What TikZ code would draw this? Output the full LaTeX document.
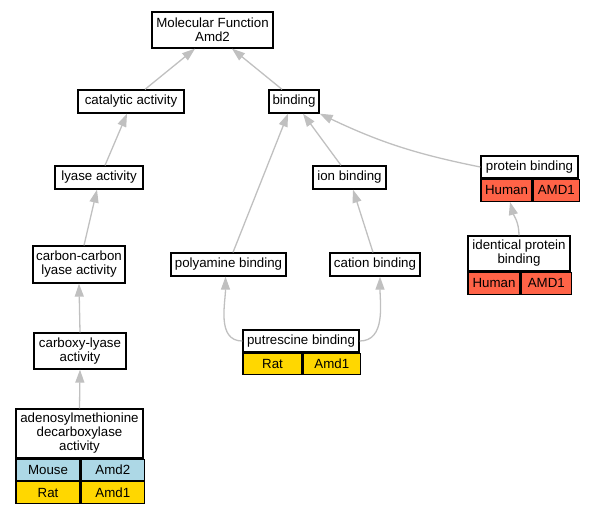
\documentclass[tikz,border=0pt]{standalone}
\usepackage{fontspec}
\setmainfont{Liberation Sans}
\usetikzlibrary{arrows.meta}
\definecolor{edgegray}{RGB}{192,192,192}
\definecolor{humanred}{RGB}{255,99,71}
\definecolor{ratgold}{RGB}{255,215,0}
\definecolor{mouseblue}{RGB}{173,216,230}

\begin{document}
\begin{tikzpicture}[x=1pt, y=-1pt, >={Triangle[length=13pt, width=9pt]}]

        % Styles
        \tikzset{
            term/.style={draw, line width=1.3pt, fill=white, align=center, inner sep=0pt, font=\fontsize{13.3}{14}\selectfont},
            cell/.style={draw, line width=1.3pt, inner sep=0pt, minimum height=22pt, anchor=north west, font=\fontsize{13.3}{14}\selectfont},
            isa/.style={->, edgegray, line width=1.3pt}
        }
        \useasboundingbox (0,0) rectangle (593,512);

        % --- GO terms ---
        \node[term, minimum width=121, minimum height=36] (mf) at (212.5,30) {Molecular Function\\Amd2};
        \node[term, minimum width=106, minimum height=23] (cat) at (131,101.5) {catalytic activity};
        \node[term, minimum width=50, minimum height=23] (bind) at (294,101.5) {binding};
        \node[term, minimum width=88, minimum height=23] (lyase) at (99,177.5) {lyase activity};
        \node[term, minimum width=73, minimum height=23] (ion) at (349.5,177.5) {ion binding};
        \node[term, minimum width=92, minimum height=37] (cc) at (79,264.5) {carbon-carbon\\lyase activity};
        \node[term, minimum width=115, minimum height=23] (poly) at (228.5,264.5) {polyamine binding};
        \node[term, minimum width=90, minimum height=23] (cation) at (375,264.5) {cation binding};
        \node[term, minimum width=92, minimum height=36] (carb) at (80,351) {carboxy-lyase\\activity};

        % --- Terms with annotation tables ---
        \node[term, minimum width=97, minimum height=22] (prot) at (529.5,167) {protein binding};
        \node[cell, fill=humanred, minimum width=51] (protH) at (prot.south west) {Human};
        \node[cell, fill=humanred, minimum width=46] (protA) at (protH.north east) {AMD1};

        \node[term, minimum width=102, minimum height=35] (ident) at (519,253.5) {identical protein\\binding};
        \node[cell, fill=humanred, minimum width=52] (identH) at (ident.south west) {Human};
        \node[cell, fill=humanred, minimum width=50] (identA) at (identH.north east) {AMD1};

        \node[term, minimum width=116, minimum height=22] (put) at (301,341) {putrescine binding};
        \node[cell, fill=ratgold, minimum width=59, minimum height=21] (putR) at (put.south west) {Rat};
        \node[cell, fill=ratgold, minimum width=57, minimum height=21] (putA) at (putR.north east) {Amd1};

        \node[term, minimum width=127, minimum height=49] (adeno) at (79.5,433.5) {adenosylmethionine\\decarboxylase\\activity};
        \node[cell, fill=mouseblue, minimum width=64, minimum height=21] (adenoM) at (adeno.south west) {Mouse};
        \node[cell, fill=mouseblue, minimum width=63, minimum height=21] (adenoA) at (adenoM.north east) {Amd2};
        \node[cell, fill=ratgold, minimum width=64] (adenoR) at (adenoM.south west) {Rat};
        \node[cell, fill=ratgold, minimum width=63] (adenoB) at (adenoR.north east) {Amd1};

        % --- is_a edges ---
        \draw[isa] ([xshift=14]cat.north) -- ([xshift=-17.5]mf.south);
        \draw[isa] ([xshift=-12]bind.north) -- ([xshift=19.5]mf.south);
        \draw[isa] ([xshift=6]lyase.north) -- ([xshift=-4]cat.south);
        \draw[isa] ([xshift=-8.5]ion.north) -- ([xshift=9]bind.south);
        \draw[isa] ([xshift=4.5]poly.north) -- ([xshift=-6]bind.south);
        \draw[isa] (prot.west) to[bend left=7] (bind.south east);
        \draw[isa] ([xshift=5]cc.north) -- ([xshift=-2]lyase.south);
        \draw[isa] ([xshift=-2]cation.north) -- ([xshift=3.5]ion.south);
        \draw[isa] (ident.north) to[out=90, in=-75] ([xshift=3.5]protH.south);
        \draw[isa] (carb.north) -- (cc.south);
        \draw[isa] (put.west) to[out=180, in=-90] ([xshift=-3]poly.south);
        \draw[isa] (put.east) to[out=0, in=-90] ([xshift=5]cation.south);
        \draw[isa] (adeno.north) -- (carb.south);

\end{tikzpicture}
\end{document}
